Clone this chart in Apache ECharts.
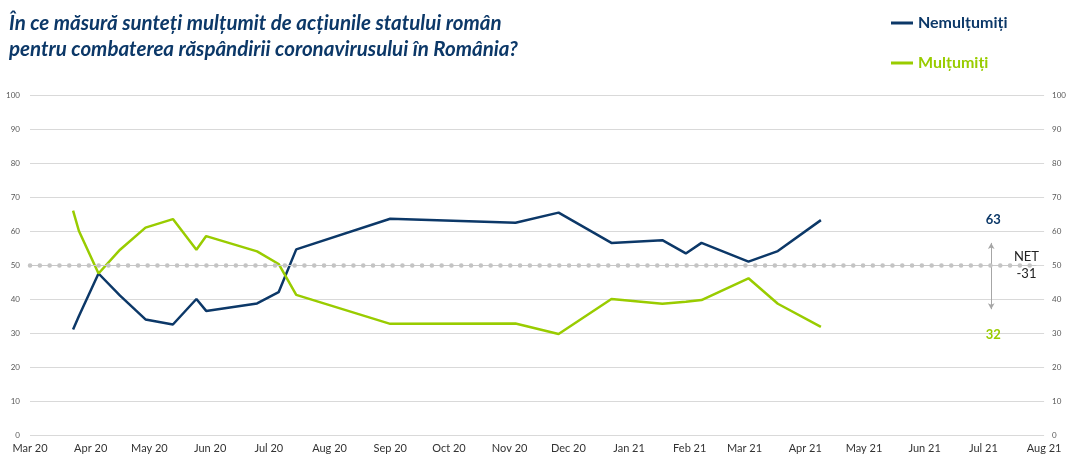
<!DOCTYPE html>
<html>
<head>
<meta charset="utf-8">
<script src="https://cdn.jsdelivr.net/npm/echarts@6/dist/echarts.min.js"></script>
<style>
  html, body { margin: 0; padding: 0; background: #fff; }
  #chart { width: 1069px; height: 459px; }
</style>
</head>
<body>
<div id="chart"></div>
<script>
// survey dates and results (%)
const dates = [
  '2020-03-23', '2020-03-26', '2020-04-05', '2020-04-16', '2020-04-29', '2020-05-13',
  '2020-05-25', '2020-05-30', '2020-06-25', '2020-07-06', '2020-07-15', '2020-09-01',
  '2020-11-04', '2020-11-26', '2020-12-23', '2021-01-18', '2021-01-30', '2021-02-07',
  '2021-03-03', '2021-03-18', '2021-04-09'
]
const nemultumiti = [31, 35, 47.5, 41, 34, 32.5, 40, 36.5, 38.7, 42, 54.6, 63.6, 62.4, 65.4, 56.5, 57.3, 53.4, 56.5, 51, 54.1, 63.2]
const multumiti = [66, 60, 47.5, 54.5, 61, 63.5, 54.5, 58.5, 54, 50.3, 41.2, 32.7, 32.8, 29.7, 40, 38.6, 39.2, 39.7, 46.1, 38.6, 31.8]

const lastBlue = 63
const lastGreen = 32
const net = -31

const months = ['Jan', 'Feb', 'Mar', 'Apr', 'May', 'Jun', 'Jul', 'Aug', 'Sep', 'Oct', 'Nov', 'Dec']
const BLUE = '#0c3868'
const GREEN = '#99cc00'
const DAY = 86400000

const toPairs = (vals) => dates.map((d, i) => [d, vals[i]])

const chart = echarts.init(document.getElementById('chart'))

const yAxisBase = {
  type: 'value',
  min: 0,
  max: 100,
  interval: 10,
  axisLine: { show: false },
  axisTick: { show: false },
  axisLabel: { fontSize: 8, color: '#595959', fontFamily: 'Lato' },
}

chart.setOption({
  animation: false,
  title: {
    text: 'În ce măsură sunteți mulțumit de acțiunile statului român\npentru combaterea răspândirii coronavirusului în România?',
    left: 4,
    top: 5,
    textStyle: {
      fontFamily: 'Lato',
      fontStyle: 'italic',
      fontWeight: 'bold',
      fontSize: 20.5,
      lineHeight: 26,
      color: BLUE,
    },
  },
  legend: {
    orient: 'vertical',
    left: 886,
    top: 10,
    itemGap: 24,
    icon: 'rect',
    itemWidth: 22,
    itemHeight: 3,
    data: [
      { name: 'Nemulțumiți', textStyle: { color: BLUE } },
      { name: 'Mulțumiți', textStyle: { color: GREEN } },
    ],
    textStyle: { fontFamily: 'Lato', fontWeight: 'bold', fontSize: 16 },
  },
  grid: { left: 30, right: 19, top: 95, bottom: 24 },
  xAxis: {
    type: 'time',
    min: '2020-03-01',
    max: '2021-08-01',
    minInterval: 28 * DAY,
    maxInterval: 31 * DAY,
    splitNumber: 17,
    axisLine: { show: false },
    axisTick: { show: false },
    splitLine: { show: false },
    axisLabel: {
      showMinLabel: true,
      showMaxLabel: true,
      fontSize: 11,
      color: '#333',
      fontFamily: 'Lato',
      margin: 8,
      formatter: (v) => {
        const d = new Date(v)
        return months[d.getMonth()] + ' ' + String(d.getFullYear()).slice(2)
      },
    },
  },
  yAxis: [
    Object.assign({}, yAxisBase, {
      position: 'left',
      axisLabel: Object.assign({}, yAxisBase.axisLabel, { margin: 10 }),
      splitLine: { lineStyle: { color: '#d9d9d9', width: 1 } },
    }),
    Object.assign({}, yAxisBase, {
      position: 'right',
      axisLabel: Object.assign({}, yAxisBase.axisLabel, { margin: 8 }),
      splitLine: { show: false },
    }),
  ],
  series: [
    {
      name: 'Nemulțumiți',
      type: 'line',
      data: toPairs(nemultumiti),
      symbol: 'none',
      lineStyle: { color: BLUE, width: 2.5 },
      itemStyle: { color: BLUE },
      z: 3,
      markPoint: {
        symbol: 'circle',
        symbolSize: 0,
        data: [
          {
            coord: ['2021-07-06', 63.2],
            label: { show: true, formatter: String(lastBlue), color: BLUE, fontWeight: 'bold', fontSize: 13, fontFamily: 'Lato' },
          },
          {
            coord: ['2021-07-23', 50],
            label: { show: true, formatter: 'NET\n' + net, color: '#222', fontSize: 13, lineHeight: 17, fontFamily: 'Lato' },
          },
        ],
      },
      markLine: {
        silent: true,
        symbol: ['arrow', 'arrow'],
        symbolSize: [5, 6],
        label: { show: false },
        lineStyle: { color: '#a6a6a6', width: 1, type: 'solid' },
        data: [[{ coord: ['2021-07-05', 56.5] }, { coord: ['2021-07-05', 37] }]],
      },
    },
    {
      name: 'Mulțumiți',
      type: 'line',
      data: toPairs(multumiti),
      symbol: 'none',
      lineStyle: { color: GREEN, width: 2.5 },
      itemStyle: { color: GREEN },
      z: 3,
      markPoint: {
        symbol: 'circle',
        symbolSize: 0,
        data: [
          {
            coord: ['2021-07-06', 29.6],
            label: { show: true, formatter: String(lastGreen), color: GREEN, fontWeight: 'bold', fontSize: 13, fontFamily: 'Lato' },
          },
        ],
      },
    },
    {
      // reference line at 50
      type: 'line',
      data: [],
      silent: true,
      z: 1,
      markLine: {
        silent: true,
        symbol: 'none',
        label: { show: false },
        data: [
          [{ coord: ['2020-03-01', 50] }, { coord: ['2021-07-28', 50], lineStyle: { color: '#c8c8c8', width: 1, type: 'solid' } }],
          [{ coord: ['2020-03-01', 50] }, { coord: ['2021-07-28', 50], lineStyle: { color: '#c4c4c4', width: 4.5, type: [0.1, 9.7], cap: 'round' } }],
        ],
      },
    },
  ],
})
</script>
</body>
</html>
